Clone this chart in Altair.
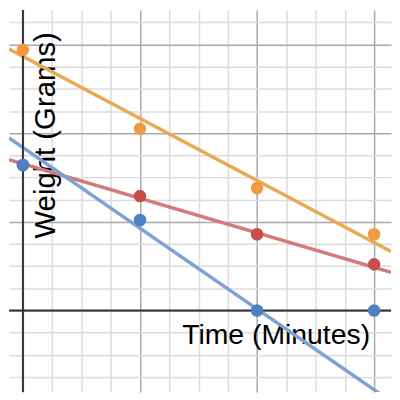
import altair as alt
import pandas as pd
import numpy as np

# ---- data ----
series = ["Orange", "Red", "Blue"]
times = [0, 1, 2, 3]
orange_w = [2.94, 2.05, 1.38, 0.86]
red_w = [1.64, 1.29, 0.86, 0.52]
blue_w = [1.64, 1.02, 0.0, 0.0]

# fitted lines (intercept, slope)
fit_intercept = [2.865, 1.655, 1.838]
fit_slope = [-0.700, -0.390, -0.911]

x_domain = [-0.119, 3.144]
y_domain = [-0.920, 3.389]
x_grid = [i * 0.25 for i in range(0, 13)]
y_grid = [-0.75 + i * 0.25 for i in range(0, 17)]

point_colors = ["#f09a46", "#c74e4b", "#4f80c2"]
line_colors = ["#e8aa52", "#d27c7a", "#7ba3d6"]

pts = pd.DataFrame({
    "series": np.repeat(series, len(times)),
    "time": times * 3,
    "weight": orange_w + red_w + blue_w,
})

rows = []
for s, a, b in zip(series, fit_intercept, fit_slope):
    for x in x_domain:
        rows.append({"series": s, "time": x, "weight": a + b * x})
lines = pd.DataFrame(rows)

xs = alt.Scale(domain=x_domain, nice=False, zero=False)
ys = alt.Scale(domain=y_domain, nice=False, zero=False)

grid_color = alt.condition("datum.value % 1 === 0", alt.value("#a9a9a9"), alt.value("#dcdcdc"))

x_axis = alt.Axis(values=x_grid, tickCount=100, labels=False, ticks=False, domain=False,
                  labelOverlap=False,
                  gridColor=grid_color, gridWidth=1.5, gridOpacity=1,
                  title="Time (Minutes)", titleFont="Liberation Sans", titleFontSize=28.5,
                  titleFontWeight="normal", titleColor="#000000",
                  titleX=268, titleY=-49, titleAlign="center", titleBaseline="alphabetic")
y_axis = alt.Axis(values=y_grid, tickCount=100, labels=False, ticks=False, domain=False,
                  labelOverlap=False,
                  gridColor=grid_color, gridWidth=1.5, gridOpacity=1,
                  title="Weight (Grams)", titleFont="Liberation Sans", titleFontSize=29.5,
                  titleFontWeight="normal", titleColor="#000000", titleAngle=270,
                  titleX=46, titleY=125.5, titleAlign="center", titleBaseline="alphabetic")

line_layer = alt.Chart(lines).mark_line(strokeWidth=3.5, clip=True).encode(
    x=alt.X("time:Q", scale=xs, axis=x_axis),
    y=alt.Y("weight:Q", scale=ys, axis=y_axis),
    color=alt.Color("series:N", scale=alt.Scale(domain=series, range=line_colors), legend=None),
    detail="series:N",
)

zero_x = alt.Chart(pd.DataFrame({"v": [0]})).mark_rule(color="#333333", strokeWidth=2).encode(
    x=alt.X("v:Q", scale=xs))
zero_y = alt.Chart(pd.DataFrame({"v": [0]})).mark_rule(color="#333333", strokeWidth=2).encode(
    y=alt.Y("v:Q", scale=ys))

point_layer = alt.Chart(pts).mark_circle(size=160, opacity=1).encode(
    x=alt.X("time:Q", scale=xs),
    y=alt.Y("weight:Q", scale=ys),
    color=alt.Color("series:N", scale=alt.Scale(domain=series, range=point_colors), legend=None),
)

chart = alt.layer(line_layer, zero_x, zero_y, point_layer).resolve_scale(
    color="independent"
).properties(
    width=384, height=384, padding=0, background="white"
).configure_view(stroke=None)

chart.save("out.html", embed_options={"renderer": "svg", "actions": False})
